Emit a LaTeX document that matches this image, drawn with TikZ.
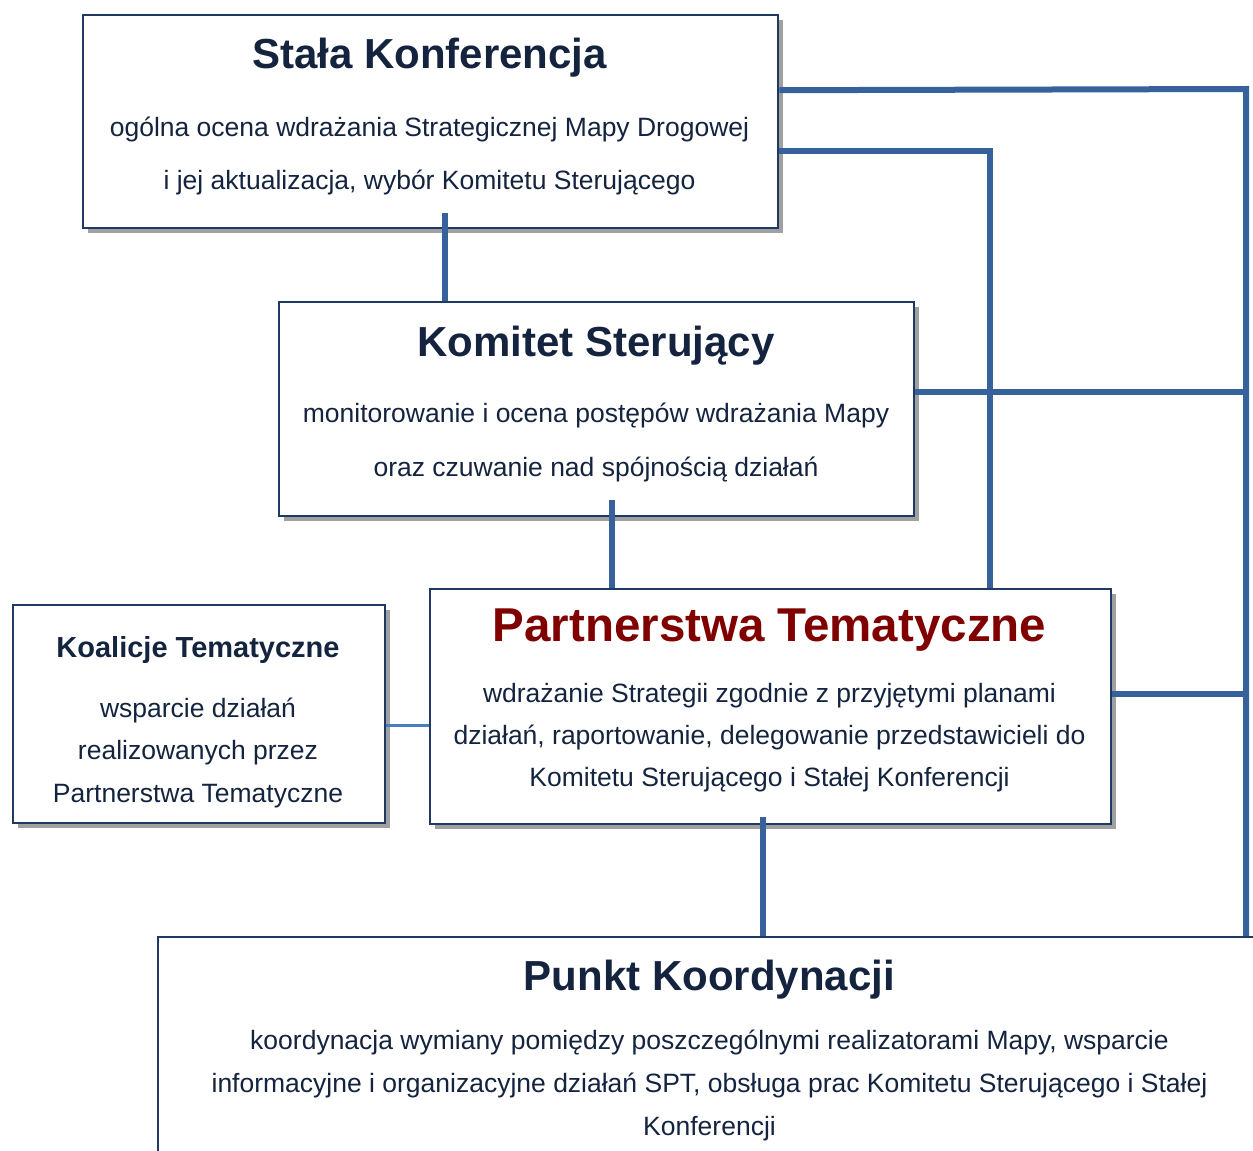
\documentclass[tikz,border=0pt]{standalone}
\usepackage{fontspec}
\setmainfont{Liberation Sans}
\usetikzlibrary{calc}
\definecolor{navy}{HTML}{1F3864}
\definecolor{txt}{HTML}{14243F}
\definecolor{linkc}{HTML}{36619A}
\definecolor{linkl}{HTML}{4A7EBB}
\definecolor{shade}{HTML}{A0A0A0}
\definecolor{dred}{HTML}{800000}
\tikzset{
 box/.style={draw=navy, line width=2.4pt, fill=white, rectangle, inner sep=0pt, anchor=north west},
 shadowbox/.style={fill=shade, draw=none, rectangle, inner sep=0pt, anchor=north west},
 ttl/.style={font=\bfseries\fontsize{42}{48}\selectfont, text=txt, anchor=base, inner sep=0pt},
 subttl/.style={font=\bfseries\fontsize{29}{34}\selectfont, text=txt, anchor=base, inner sep=0pt},
 body/.style={font=\fontsize{26.5}{30}\selectfont, text=txt, anchor=base, inner sep=0pt},
 link/.style={draw=linkc, line width=6pt},
 thinlink/.style={draw=linkl, line width=3pt},
}
\begin{document}
\begin{tikzpicture}[x=1pt,y=-1pt]
\clip (0,0) rectangle (1253,1151);
\fill[white] (0,0) rectangle (1253,1151);
% shadows
\node[shadowbox, minimum width=695pt, minimum height=213pt] (stalash) at (87.5,19.5) {};
\node[shadowbox, minimum width=635pt, minimum height=214pt] (komsh) at (283.5,306.5) {};
\node[shadowbox, minimum width=681pt, minimum height=235pt] (partsh) at (434.5,593.5) {};
\node[shadowbox, minimum width=372pt, minimum height=218pt] (koalsh) at (17.5,609.5) {};
% boxes
\node[box, minimum width=695pt, minimum height=213pt] (stala) at (82,14) {};
\node[box, minimum width=635pt, minimum height=214pt] (kom) at (278,301) {};
\node[box, minimum width=681pt, minimum height=235pt] (part) at (429,588) {};
\node[box, minimum width=372pt, minimum height=218pt] (koal) at (12,604) {};
\node[box, minimum width=1105pt, minimum height=260pt] (punkt) at (157,936) {};
% texts
\node[ttl] (stalaT) at (429.5,68) {Stała Konferencja};
\node[body] (stalaB1) at (429.5,136) {ogólna ocena wdrażania Strategicznej Mapy Drogowej};
\node[body] (stalaB2) at (429.5,189) {i jej aktualizacja, wybór Komitetu Sterującego};
\node[ttl] (komT) at (596,356) {Komitet Sterujący};
\node[body] (komB1) at (596,422) {monitorowanie i ocena postępów wdrażania Mapy};
\node[body] (komB2) at (596,476) {oraz czuwanie nad spójnością działań};
\node[ttl, text=dred, font=\bfseries\fontsize{47.5}{54}\selectfont] (partT) at (769.5,641) {Partnerstwa Tematyczne};
\node[body] (partB1) at (769.5,702) {wdrażanie Strategii zgodnie z przyjętymi planami};
\node[body] (partB2) at (769.5,744) {działań, raportowanie, delegowanie przedstawicieli do};
\node[body] (partB3) at (769.5,786) {Komitetu Sterującego i Stałej Konferencji};
\node[subttl] (koalT) at (198,657) {Koalicje Tematyczne};
\node[body] (koalB1) at (198,717) {wsparcie działań};
\node[body] (koalB2) at (198,759) {realizowanych przez};
\node[body] (koalB3) at (198,802) {Partnerstwa Tematyczne};
\node[ttl] (punktT) at (709.5,990) {Punkt Koordynacji};
\node[body] (punktB1) at (709.5,1049) {koordynacja wymiany pomiędzy poszczególnymi realizatorami Mapy, wsparcie};
\node[body] (punktB2) at (709.5,1092) {informacyjne i organizacyjne działań SPT, obsługa prac Komitetu Sterującego i Stałej};
\node[body] (punktB3) at (709.5,1135) {Konferencji};
% connectors
\coordinate (bus) at (1246,89);
\coordinate (c1) at ([xshift=14.5pt,yshift=16pt]stala.south);
\draw[link] (c1) -- (c1 |- kom.north);
\coordinate (c2) at ([xshift=15.5pt,yshift=17pt]kom.south);
\draw[link] (c2) -- (c2 |- part.north);
\coordinate (c3) at ([xshift=-7.5pt,yshift=8pt]part.south);
\draw[link] (c3) -- (c3 |- punkt.north);
\coordinate (k1) at ([yshift=-11pt]koal.east);
\draw[thinlink] (k1) -- (k1 -| part.west);
\coordinate (r1) at ([yshift=31.5pt]stala.east);
\draw[link] (r1) -- (bus) -- (bus |- punkt.north);
\coordinate (r2) at ([yshift=-29.5pt]stala.east);
\coordinate (p2) at ([xshift=219.5pt]part.north);
\draw[link] (r2) -| (p2);
\coordinate (r3) at ([yshift=17pt]kom.east);
\draw[link] (r3) -- (r3 -| bus);
\coordinate (r4) at ([yshift=12.5pt]part.east);
\draw[link] (r4) -- (r4 -| bus);
\end{tikzpicture}
\end{document}
